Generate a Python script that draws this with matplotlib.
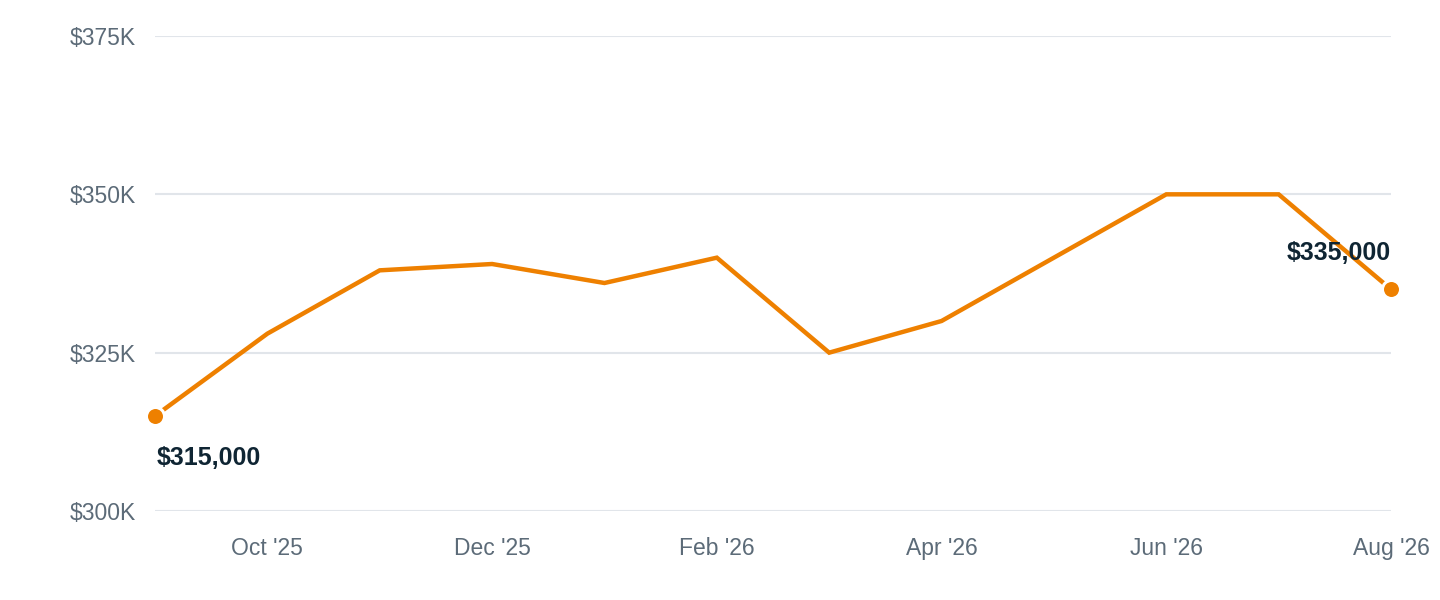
import matplotlib
matplotlib.use("Agg")
import matplotlib.pyplot as plt
from matplotlib.ticker import FuncFormatter

months = ["Sep '25", "Oct '25", "Nov '25", "Dec '25", "Jan '26", "Feb '26",
          "Mar '26", "Apr '26", "May '26", "Jun '26", "Jul '26", "Aug '26"]
values = [315000, 328000, 338000, 339000, 336000, 340000,
          325000, 330000, 340000, 350000, 350000, 335000]
y_ticks = [300000, 325000, 350000, 375000]
x_tick_idx = [1, 3, 5, 7, 9, 11]

plt.rcParams['font.family'] = ['Liberation Sans', 'DejaVu Sans']

fig = plt.figure(figsize=(14.4, 6.0), dpi=100)
ax = fig.add_axes([155/1440, 1-511/600, (1391-155)/1440, (511-36)/600])

orange = '#ee8000'
x = list(range(len(values)))
ax.plot(x, values, color=orange, lw=3.2, solid_joinstyle='miter', zorder=3, clip_on=False)
for i in (0, len(values)-1):
    ax.plot(x[i], values[i], 'o', ms=13, color=orange, mec='white', mew=2.2,
            zorder=4, clip_on=False)

ax.annotate(f"${values[0]:,}", (x[0], values[0]), xytext=(1, -30), textcoords='offset points',
            ha='left', va='center', fontsize=18, fontweight='bold', color='#0f2533')
ax.annotate(f"${values[-1]:,}", (x[-1], values[-1]), xytext=(0, 26), textcoords='offset points',
            ha='right', va='center', fontsize=18, fontweight='bold', color='#0f2533')

ax.set_xlim(0, len(values)-1)
ax.set_ylim(y_ticks[0], y_ticks[-1])
ax.set_yticks(y_ticks)
ax.yaxis.set_major_formatter(FuncFormatter(lambda v, p: f"${int(v/1000)}K"))
ax.set_xticks(x_tick_idx)
ax.set_xticklabels([months[i] for i in x_tick_idx])

for s in ax.spines.values():
    s.set_visible(False)
ax.grid(axis='y', color='#e1e5ea', lw=1.5)
ax.set_axisbelow(True)
ax.tick_params(axis='both', length=0, labelsize=16.5, colors='#5c6b78')
ax.tick_params(axis='y', pad=14)
ax.tick_params(axis='x', pad=19)

fig.savefig("out.png", dpi=100, facecolor='white')
